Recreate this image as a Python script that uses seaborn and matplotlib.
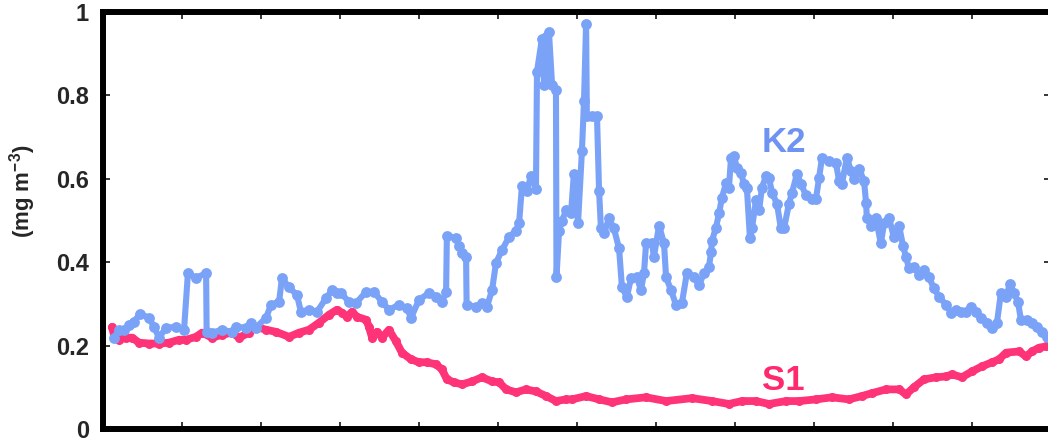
import matplotlib
matplotlib.use("Agg")
import matplotlib.pyplot as plt
import numpy as np
import pandas as pd
import seaborn as sns

# Day of year and concentration for station K2
k2_day = [4.2, 6.2, 8.1, 10.0, 11.9, 14.2, 17.7, 19.6, 21.6, 24.3, 28.1, 31.2,
          32.7, 35.8, 39.7, 39.9, 42.0, 45.8, 49.7, 51.2, 55.1, 57.0, 58.9, 62.8,
          64.7, 67.8, 68.9, 71.6, 74.7, 76.2, 79.3, 82.4, 85.9, 88.2, 90.1, 91.6,
          94.7, 97.4, 101.3, 104.3, 107.4, 110.1, 114.0, 117.0, 118.6, 121.7, 125.5,
          128.2, 130.5, 132.1, 132.4, 135.9, 137.1, 138.2, 139.8, 140.0, 143.6,
          145.9, 147.8, 149.8, 151.3, 153.6, 156.3, 159.0, 160.2, 161.3, 163.2,
          164.8, 166.7, 167.1, 169.0, 169.8, 170.6, 170.9, 171.7, 172.9, 174.4,
          174.6, 175.6, 176.7, 178.3, 180.2, 181.3, 182.9, 184.4, 185.2, 186.0,
          186.3, 188.3, 190.2, 191.0, 191.7, 192.9, 194.8, 196.7, 198.7, 199.8,
          201.7, 203.3, 205.6, 207.1, 208.3, 209.1, 211.4, 212.1, 214.1, 216.0,
          216.8, 218.7, 220.6, 222.9, 224.8, 227.5, 229.5, 231.4, 233.3, 234.1,
          234.5, 236.0, 237.2, 238.3, 239.9, 241.0, 241.8, 242.9, 244.1, 245.6,
          246.8, 247.9, 249.1, 249.9, 251.4, 252.6, 253.7, 255.3, 256.4, 257.6,
          259.5, 261.0, 262.2, 264.1, 265.3, 267.2, 268.7, 270.7, 273.0, 274.5,
          275.7, 276.8, 279.5, 282.2, 283.4, 284.5, 286.4, 288.0, 289.1, 291.1,
          293.0, 293.8, 294.1, 295.7, 297.6, 299.5, 300.7, 302.6, 304.5, 306.5,
          308.0, 309.2, 310.3, 312.2, 314.2, 316.1, 318.0, 319.9, 321.9, 324.6,
          326.5, 328.4, 330.3, 332.3, 334.2, 336.1, 338.0, 340.3, 342.3, 344.2,
          345.7, 347.7, 349.2, 350.7, 352.3, 353.4, 355.7, 357.7, 359.6, 361.5,
          363.4]
k2_conc = [0.219, 0.238, 0.238, 0.250, 0.257, 0.276, 0.267, 0.245, 0.219, 0.243,
           0.245, 0.238, 0.374, 0.362, 0.374, 0.233, 0.231, 0.238, 0.233, 0.245,
           0.243, 0.255, 0.243, 0.267, 0.298, 0.305, 0.362, 0.340, 0.321, 0.281,
           0.286, 0.281, 0.314, 0.333, 0.326, 0.326, 0.305, 0.302, 0.329, 0.329,
           0.305, 0.286, 0.298, 0.290, 0.267, 0.310, 0.326, 0.317, 0.305, 0.329,
           0.464, 0.457, 0.440, 0.421, 0.412, 0.298, 0.293, 0.302, 0.293, 0.333,
           0.398, 0.429, 0.460, 0.476, 0.493, 0.583, 0.571, 0.607, 0.576, 0.857,
           0.936, 0.826, 0.940, 0.840, 0.952, 0.826, 0.814, 0.364, 0.476, 0.500,
           0.524, 0.517, 0.612, 0.495, 0.667, 0.786, 0.971, 0.750, 0.750, 0.750,
           0.571, 0.483, 0.469, 0.505, 0.481, 0.433, 0.340, 0.317, 0.362, 0.364,
           0.333, 0.374, 0.445, 0.445, 0.412, 0.488, 0.445, 0.364, 0.333, 0.298,
           0.302, 0.374, 0.364, 0.345, 0.374, 0.388, 0.424, 0.452, 0.483, 0.517,
           0.555, 0.590, 0.579, 0.650, 0.655, 0.626, 0.614, 0.588, 0.579, 0.457,
           0.483, 0.548, 0.524, 0.579, 0.607, 0.602, 0.567, 0.540, 0.481, 0.481,
           0.540, 0.567, 0.612, 0.588, 0.560, 0.552, 0.552, 0.602, 0.650, 0.643,
           0.638, 0.595, 0.588, 0.650, 0.619, 0.600, 0.624, 0.595, 0.543, 0.505,
           0.488, 0.505, 0.445, 0.493, 0.507, 0.460, 0.488, 0.440, 0.412, 0.386,
           0.388, 0.369, 0.381, 0.364, 0.338, 0.317, 0.298, 0.279, 0.286, 0.281,
           0.281, 0.293, 0.281, 0.267, 0.255, 0.243, 0.255, 0.326, 0.317, 0.348,
           0.326, 0.305, 0.262, 0.262, 0.255, 0.245, 0.233, 0.221]

# Day of year and concentration for station S1
s1_day = [3.5, 4.2, 6.2, 8.9, 11.2, 13.9, 17.7, 21.6, 25.4, 29.3, 32.0, 35.8,
          38.1, 42.0, 45.8, 49.7, 52.4, 56.2, 58.9, 62.8, 66.6, 71.6, 75.5, 79.3,
          83.2, 87.0, 90.1, 92.0, 93.9, 95.9, 97.8, 101.3, 102.4, 103.6, 105.5,
          107.4, 110.1, 112.8, 115.1, 118.6, 121.7, 124.7, 128.2, 130.5, 132.4,
          135.1, 138.2, 142.1, 145.9, 149.8, 152.5, 155.2, 159.0, 162.9, 166.7,
          170.6, 174.4, 178.3, 180.6, 186.0, 191.0, 196.0, 201.4, 209.1, 216.8,
          226.8, 234.5, 241.0, 246.0, 251.4, 256.4, 263.0, 268.0, 274.5, 280.7,
          287.2, 292.2, 296.1, 301.5, 306.5, 309.2, 312.2, 316.1, 320.7, 324.6,
          326.9, 330.7, 334.6, 338.4, 342.3, 345.0, 347.7, 352.7, 355.4, 357.7,
          360.4, 363.1]
s1_conc = [0.245, 0.226, 0.214, 0.219, 0.219, 0.207, 0.205, 0.205, 0.207, 0.214,
           0.214, 0.221, 0.231, 0.219, 0.226, 0.231, 0.219, 0.231, 0.245, 0.238,
           0.233, 0.221, 0.231, 0.238, 0.255, 0.274, 0.286, 0.279, 0.269, 0.281,
           0.269, 0.262, 0.245, 0.219, 0.233, 0.219, 0.238, 0.210, 0.183, 0.167,
           0.160, 0.160, 0.155, 0.143, 0.119, 0.112, 0.107, 0.114, 0.124, 0.114,
           0.112, 0.095, 0.088, 0.095, 0.090, 0.079, 0.067, 0.071, 0.071, 0.079,
           0.071, 0.064, 0.071, 0.076, 0.067, 0.074, 0.067, 0.060, 0.067, 0.067,
           0.060, 0.067, 0.067, 0.071, 0.076, 0.071, 0.079, 0.086, 0.095, 0.095,
           0.083, 0.100, 0.119, 0.124, 0.126, 0.131, 0.124, 0.138, 0.150, 0.160,
           0.167, 0.183, 0.186, 0.174, 0.186, 0.195, 0.198]

y_ticks = [0, 0.2, 0.4, 0.6, 0.8, 1]
y_tick_labels = ["0", "0.2", "0.4", "0.6", "0.8", "1"]

BLUE = "#7aa3f8"
PINK = "#ff3378"

sns.set_theme(style="ticks")
plt.rcParams["font.family"] = ["Liberation Sans", "DejaVu Sans"]
plt.rcParams["font.weight"] = "bold"
plt.rcParams["mathtext.fontset"] = "custom"
plt.rcParams["mathtext.rm"] = "Liberation Sans:bold"
plt.rcParams["mathtext.it"] = "Liberation Sans:bold"
plt.rcParams["mathtext.bf"] = "Liberation Sans:bold"

fig = plt.figure(figsize=(10.48, 4.46), dpi=100)
ax = fig.add_axes([103 / 1048, 17 / 446, 948 / 1048, 417 / 446])

k2 = pd.DataFrame({"day": k2_day, "conc": k2_conc})
s1 = pd.DataFrame({"day": s1_day, "conc": s1_conc})

sns.lineplot(data=k2, x="day", y="conc", ax=ax, sort=False, estimator=None,
             color=BLUE, linewidth=4.4, marker="o", markersize=7.8,
             markeredgewidth=0, zorder=3)
sns.lineplot(data=s1, x="day", y="conc", ax=ax, sort=False, estimator=None,
             color=PINK, linewidth=5.6, marker="o", markersize=6.5,
             markeredgewidth=0, zorder=2)

ax.text(262, 0.664, "K2", color="#6f93f2", fontsize=25, fontweight="bold",
        ha="center", va="baseline")
ax.text(262, 0.0935, "S1", color="#ff2a6e", fontsize=25, fontweight="bold",
        ha="center", va="baseline")

ax.set_xlim(0, 365)
ax.set_ylim(0, 1)
ax.set_xticks(np.arange(1, 12) * 365 / 12)
ax.set_xticklabels([])
ax.set_yticks(y_ticks)
ax.set_yticklabels(y_tick_labels, fontsize=17, fontweight="bold")

ax.tick_params(axis="both", direction="in", length=5, width=1.1, color="black")
ax.tick_params(axis="x", top=True, bottom=True)
ax.tick_params(axis="y", left=True, right=True, pad=10)

for side in ["left", "bottom", "top", "right"]:
    ax.spines[side].set_linewidth(4.3)
    ax.spines[side].set_color("black")

ax.set_xlabel("")
ax.set_ylabel("(mg m$^{-3}$)", fontsize=16, fontweight="bold")
ax.yaxis.set_label_coords(-0.0686, 0.571)

fig.savefig("out.png", dpi=100, facecolor="white")
